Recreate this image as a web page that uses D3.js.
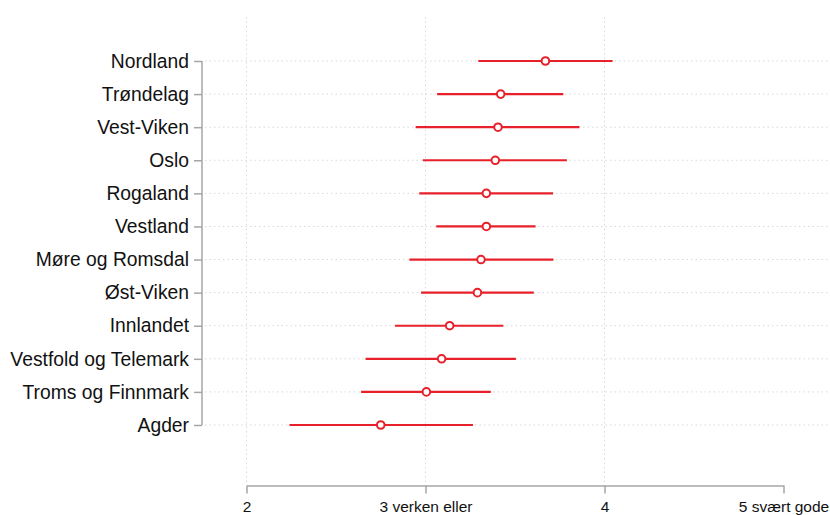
<!DOCTYPE html>
<html>
<head>
<meta charset="utf-8">
<script src="https://cdn.jsdelivr.net/npm/d3@7"></script>
<style>
  body { margin: 0; background: #fff; }
</style>
</head>
<body>
<div id="chart"></div>
<script>
// regions, top to bottom
const regions = ['Nordland', 'Trøndelag', 'Vest-Viken', 'Oslo', 'Rogaland', 'Vestland',
    'Møre og Romsdal', 'Øst-Viken', 'Innlandet', 'Vestfold og Telemark', 'Troms og Finnmark', 'Agder']
const means = [3.67, 3.42, 3.405, 3.39, 3.34, 3.34, 3.31, 3.29, 3.135, 3.09, 3.005, 2.75]
const lower = [3.295, 3.065, 2.945, 2.985, 2.965, 3.06, 2.91, 2.975, 2.83, 2.665, 2.64, 2.24]
const upper = [4.045, 3.77, 3.86, 3.79, 3.713, 3.615, 3.715, 3.605, 3.435, 3.505, 3.365, 3.265]
const tickValues = [2, 3, 4, 5]
const tickLabels = ['2', '3 verken eller', '4', '5 svært gode']

const width = 830
const height = 515
const red = '#e8202a'

const data = regions.map((r, i) => ({ name: r, mean: means[i], lo: lower[i], hi: upper[i] }))

const x = d3.scaleLinear().domain([2, 5]).range([246.5, 783.5])
const y = d3.scalePoint().domain(regions).range([61, 425])

const svg = d3.select('#chart').append('svg').attr('width', width).attr('height', height)

// vertical grid
svg.append('g')
    .selectAll('line')
    .data(tickValues.slice(0, 3))
    .join('line')
    .attr('x1', d => x(d)).attr('x2', d => x(d))
    .attr('y1', 17).attr('y2', 485)
    .attr('stroke', '#d9d9d9')
    .attr('stroke-width', 1)
    .attr('stroke-dasharray', '1.5,3')

// horizontal grid
svg.append('g')
    .selectAll('line')
    .data(regions)
    .join('line')
    .attr('x1', 205).attr('x2', width)
    .attr('y1', d => y(d)).attr('y2', d => y(d))
    .attr('stroke', '#d9d9d9')
    .attr('stroke-width', 1)
    .attr('stroke-dasharray', '1.5,3')

// y axis
const yAxis = svg.append('g')
    .attr('transform', 'translate(202,0)')
    .call(d3.axisLeft(y).tickSize(8).tickPadding(5))
yAxis.select('.domain').attr('d', `M0,${y(regions[0])}V${y(regions[regions.length - 1])}`)
    .attr('stroke', '#a6a6a6').attr('stroke-width', 1.5)
yAxis.selectAll('.tick line').attr('stroke', '#a6a6a6').attr('stroke-width', 1.5)
yAxis.selectAll('.tick text')
    .style('font', '19.3px "Liberation Sans", Arial, sans-serif')
    .attr('fill', '#111')

// x axis
const xAxis = svg.append('g')
    .attr('transform', 'translate(0,485.5)')
    .call(d3.axisBottom(x).tickValues(tickValues).tickFormat((d, i) => tickLabels[i]).tickSize(8).tickPadding(7).tickSizeOuter(0))
xAxis.select('.domain').attr('stroke', '#a6a6a6').attr('stroke-width', 1.5)
xAxis.selectAll('.tick line').attr('stroke', '#a6a6a6').attr('stroke-width', 1.5)
xAxis.selectAll('.tick text')
    .style('font', '15.5px "Liberation Sans", Arial, sans-serif')
    .attr('fill', '#111')

// confidence intervals
svg.append('g')
    .selectAll('line')
    .data(data)
    .join('line')
    .attr('x1', d => x(d.lo)).attr('x2', d => x(d.hi))
    .attr('y1', d => y(d.name)).attr('y2', d => y(d.name))
    .attr('stroke', red)
    .attr('stroke-width', 2.2)

// point estimates
svg.append('g')
    .selectAll('circle')
    .data(data)
    .join('circle')
    .attr('cx', d => x(d.mean))
    .attr('cy', d => y(d.name))
    .attr('r', 3.8)
    .attr('fill', '#fff')
    .attr('stroke', red)
    .attr('stroke-width', 2)
</script>
</body>
</html>
